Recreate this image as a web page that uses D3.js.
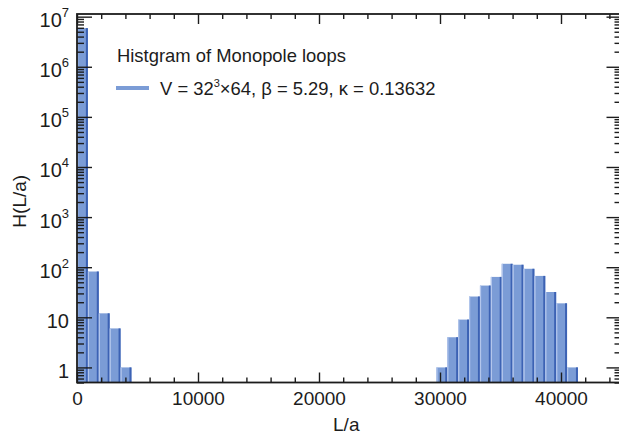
<!DOCTYPE html>
<html>
<head>
<meta charset="utf-8">
<script src="https://cdn.jsdelivr.net/npm/d3@7"></script>
<style>
  html, body { margin: 0; padding: 0; background: #fff; }
  svg { display: block; font-family: "Liberation Sans", Arial, Helvetica, sans-serif; }
</style>
</head>
<body>
<svg id="chart" width="619" height="436"></svg>
<script>
// Histogram of monopole loop lengths (bin width 900 in L/a)
const binWidth = 900;
const binLeft = [0, 900, 1800, 2700, 3600,
  29700, 30600, 31500, 32400, 33300, 34200, 35100, 36000, 36900, 37800, 38700, 39600, 40500];
const counts = [5.9e6, 82, 12, 6, 1,
  1, 4, 9, 26, 43, 64, 117, 112, 93, 67, 32, 19, 1];

const xMajorTicks = [0, 10000, 20000, 30000, 40000];
const xMinorTicks = d3.range(2000, 45000, 2000).filter(v => v % 10000 !== 0);
const yExponents = [0, 1, 2, 3, 4, 5, 6, 7];

const legendTitle = "Histgram of Monopole loops";
const xTitle = "L/a";
const yTitle = "H(L/a)";

const svg = d3.select("#chart");
const plot = { left: 77, right: 621.5, top: 14, bottom: 382.5 };

const x = d3.scaleLinear().domain([0, 45000]).range([plot.left, plot.right]);
const y = d3.scaleLog().domain([0.5, 1.13e7]).range([plot.bottom, plot.top]);

const barFill = "#7b9cd6", barLight = "#b3c6ec", barDark = "#3c62b4";
const ink = "#1c1c1c";

// bars
const bars = svg.append("g").selectAll("g").data(binLeft.map((b, i) => ({ b, c: counts[i] })))
  .join("g");
bars.each(function (d) {
  const g = d3.select(this);
  const x0 = x(d.b), x1 = x(d.b + binWidth), yt = y(d.c);
  const h = plot.bottom - yt;
  g.append("rect").attr("x", x0).attr("y", yt).attr("width", x1 - x0).attr("height", h).attr("fill", barFill);
  g.append("rect").attr("x", x0).attr("y", yt).attr("width", 1.2).attr("height", h).attr("fill", barLight);
  g.append("rect").attr("x", x1 - 2).attr("y", yt).attr("width", 2).attr("height", h).attr("fill", barDark);
});

// axes (ticks pointing inward on all four sides)
function styleAxis(g) {
  g.select(".domain").remove();
  g.selectAll(".tick line").attr("stroke", ink).attr("stroke-width", 1.4);
}
const fs = 19;

svg.append("g").attr("transform", `translate(0,${plot.bottom})`)
  .call(d3.axisBottom(x).tickValues(xMajorTicks).tickSize(-10).tickPadding(9).tickFormat(d3.format("d")))
  .call(styleAxis)
  .call(g => g.selectAll(".tick text").attr("font-size", fs).attr("fill", ink).attr("font-family", null));
svg.append("g").attr("transform", `translate(0,${plot.bottom})`)
  .call(d3.axisBottom(x).tickValues(xMinorTicks).tickSize(-5).tickFormat(""))
  .call(styleAxis);
svg.append("g").attr("transform", `translate(0,${plot.top})`)
  .call(d3.axisTop(x).tickValues(xMajorTicks).tickSize(-10).tickFormat(""))
  .call(styleAxis);
svg.append("g").attr("transform", `translate(0,${plot.top})`)
  .call(d3.axisTop(x).tickValues(xMinorTicks).tickSize(-5).tickFormat(""))
  .call(styleAxis);

const yMajor = yExponents.map(e => Math.pow(10, e));
const yMinor = [];
for (let e = -1; e <= 7; e++) for (let m = 2; m <= 9; m++) {
  const v = m * Math.pow(10, e);
  if (v >= 0.5 && v <= 1.13e7) yMinor.push(v);
}

svg.append("g").attr("transform", `translate(${plot.left},0)`)
  .call(d3.axisLeft(y).tickValues(yMajor).tickSize(-15).tickPadding(8).tickFormat(""))
  .call(styleAxis)
  .call(g => g.selectAll(".tick text").each(function (d) {
    const t = d3.select(this).attr("font-size", fs + 1).attr("fill", ink).attr("font-family", null).attr("dy", "10px");
    const e = Math.round(Math.log10(d));
    if (e === 0) t.text("1");
    else if (e === 1) t.text("10");
    else {
      t.append("tspan").text("10");
      t.append("tspan").attr("font-size", 13).attr("dy", -10).text(e);
    }
  }));
svg.append("g").attr("transform", `translate(${plot.left},0)`)
  .call(d3.axisLeft(y).tickValues(yMinor).tickSize(-7).tickFormat(""))
  .call(styleAxis);
svg.append("g").attr("transform", `translate(${plot.right},0)`)
  .call(d3.axisRight(y).tickValues(yMajor).tickSize(-15).tickFormat(""))
  .call(styleAxis);
svg.append("g").attr("transform", `translate(${plot.right},0)`)
  .call(d3.axisRight(y).tickValues(yMinor).tickSize(-7).tickFormat(""))
  .call(styleAxis);

// frame
svg.append("rect")
  .attr("x", plot.left).attr("y", plot.top)
  .attr("width", plot.right - plot.left).attr("height", plot.bottom - plot.top)
  .attr("fill", "none").attr("stroke", ink).attr("stroke-width", 1.8);

// axis titles
svg.append("text").attr("x", (plot.left + plot.right) / 2 - 3).attr("y", 431)
  .attr("text-anchor", "middle").attr("font-size", fs).attr("fill", ink).text(xTitle);
svg.append("text").attr("transform", `translate(26,${(plot.top + plot.bottom) / 2 + 3}) rotate(-90)`)
  .attr("text-anchor", "middle").attr("font-size", fs).attr("fill", ink).text(yTitle);

// legend
svg.append("text").attr("x", 117).attr("y", 62).attr("font-size", 18.4).attr("fill", ink).text(legendTitle);
svg.append("line").attr("x1", 116).attr("x2", 149).attr("y1", 88).attr("y2", 88)
  .attr("stroke", barFill).attr("stroke-width", 4);
const lt = svg.append("text").attr("x", 160).attr("y", 95).attr("font-size", 18.4).attr("fill", ink);
lt.append("tspan").text("V = 32");
lt.append("tspan").attr("font-size", 11).attr("dy", -8).text("3");
lt.append("tspan").attr("dy", 8).text("\u00d764, \u03b2 = 5.29, \u03ba = 0.13632");
</script>
</body>
</html>
